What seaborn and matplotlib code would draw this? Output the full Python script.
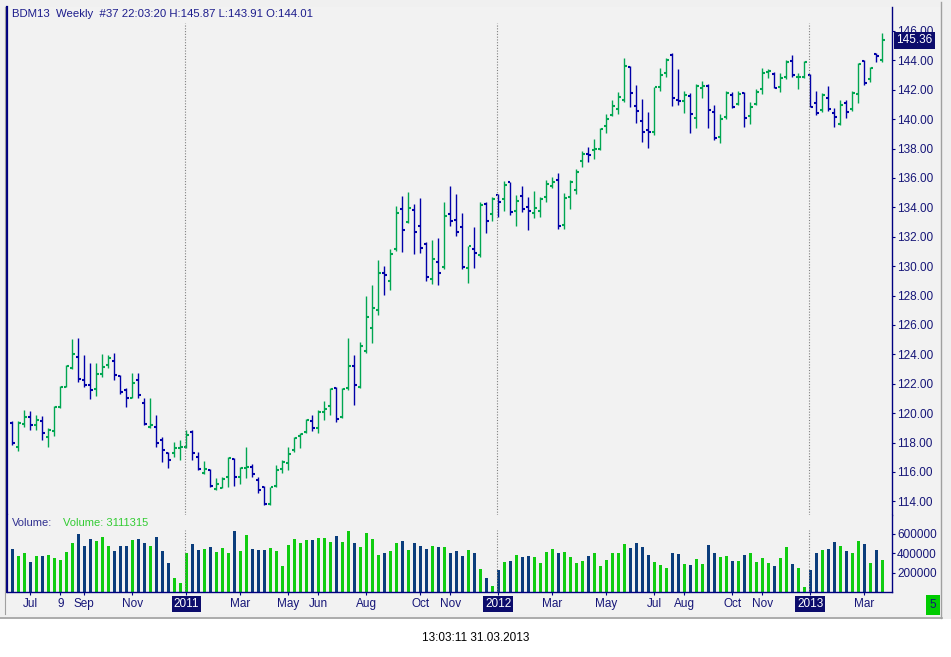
import numpy as np
import pandas as pd
import seaborn as sns
import matplotlib
matplotlib.use('Agg')
import matplotlib.pyplot as plt
import matplotlib.transforms as mtransforms
from matplotlib.patches import Rectangle

# weekly bars, BDM13, from week of 14.06.2010 to week of 25.03.2013
opens = [119.31, 117.68, 119.24, 119.72, 119.20, 119.49, 118.36, 118.79, 120.40, 121.81,
         123.05, 123.85, 122.26, 121.92, 121.62, 122.67, 123.28, 123.53, 122.55, 121.58,
         121.01, 122.26, 120.67, 119.04, 119.08, 118.18, 117.32, 117.27, 117.61, 117.72,
         118.74, 117.00, 115.91, 116.14, 114.82, 114.91, 115.68, 116.86, 115.68, 116.25,
         116.36, 115.46, 115.00, 113.82, 115.05, 116.18, 116.59, 117.50, 118.45, 118.74,
         119.47, 118.97, 120.05, 120.46, 121.69, 119.71, 121.69, 123.18, 121.76, 124.20,
         125.77, 126.99, 129.51, 128.97, 131.14, 133.86, 132.98, 133.80, 132.71, 131.50,
         129.10, 130.26, 129.92, 133.52, 133.12, 132.64, 129.85, 131.14, 130.74, 134.20,
         133.52, 134.82, 134.55, 135.70, 133.73, 134.80, 134.00, 133.60, 133.73, 134.68,
         135.46, 135.86, 132.78, 134.71, 135.18, 137.13, 137.63, 137.88, 137.95, 139.56,
         140.26, 140.69, 141.28, 143.53, 140.88, 139.88, 139.27, 139.10, 142.17, 143.12,
         144.37, 141.31, 141.24, 141.58, 140.06, 142.10, 142.26, 140.49, 138.77, 140.13,
         141.62, 141.03, 141.76, 140.22, 141.03, 142.03, 143.21, 143.08, 142.17, 142.85,
         143.96, 142.85, 142.89, 143.01, 141.08, 140.63, 141.42, 140.40, 139.67, 141.08,
         140.67, 141.72, 143.96, 142.71, 144.44, 144.01]
highs = [119.49, 119.49, 120.22, 120.15, 119.88, 119.81, 118.97, 120.49, 121.85, 123.28,
         125.03, 125.14, 123.96, 123.39, 123.44, 124.00, 123.96, 124.12, 122.60, 121.69,
         122.71, 122.76, 121.01, 121.01, 119.88, 118.40, 117.38, 118.06, 118.18, 118.86,
         118.86, 117.38, 116.77, 116.18, 115.57, 115.68, 117.04, 116.97, 116.36, 117.68,
         116.54, 115.68, 115.05, 115.00, 116.48, 116.82, 117.72, 118.40, 118.63, 119.58,
         119.87, 120.21, 120.83, 121.69, 121.76, 121.69, 125.09, 123.95, 124.86, 127.97,
         128.72, 130.42, 130.01, 131.17, 134.09, 134.77, 135.04, 134.23, 134.64, 131.66,
         131.78, 131.89, 134.36, 135.45, 134.91, 133.59, 131.37, 132.64, 134.39, 134.36,
         134.68, 134.91, 135.82, 135.75, 134.84, 135.46, 134.73, 135.12, 134.73, 135.86,
         136.09, 136.32, 134.96, 135.86, 136.59, 137.84, 138.09, 138.65, 139.38, 140.35,
         141.31, 141.83, 144.14, 143.62, 142.33, 141.35, 140.51, 142.21, 143.46, 144.14,
         144.48, 143.39, 141.92, 141.76, 142.40, 142.60, 142.40, 140.97, 140.35, 141.92,
         141.87, 141.92, 141.87, 141.19, 142.03, 143.46, 143.39, 143.19, 143.17, 144.03,
         144.37, 143.12, 143.96, 143.08, 141.92, 141.76, 142.26, 140.74, 141.31, 141.31,
         141.94, 143.85, 144.03, 143.57, 144.53, 145.87]
lows = [117.84, 117.45, 119.08, 118.86, 118.86, 118.18, 117.72, 118.45, 120.33, 121.76,
        122.98, 122.15, 121.81, 120.94, 121.17, 122.49, 123.05, 122.26, 121.31, 120.40,
        121.01, 121.01, 119.20, 118.97, 117.72, 116.70, 116.25, 117.04, 116.82, 117.61,
        116.82, 116.14, 115.86, 115.00, 114.78, 114.89, 115.00, 115.05, 115.18, 115.57,
        115.68, 114.55, 113.76, 113.76, 115.00, 115.91, 116.14, 117.38, 117.61, 118.63,
        118.81, 118.63, 119.53, 119.87, 119.42, 119.65, 121.57, 120.55, 121.69, 124.11,
        124.79, 126.68, 128.06, 128.38, 131.05, 130.98, 132.91, 130.83, 130.92, 129.01,
        128.78, 128.72, 129.78, 132.73, 132.05, 129.83, 128.88, 129.90, 130.64, 132.28,
        133.09, 133.32, 133.77, 133.48, 132.76, 133.71, 132.46, 133.26, 133.32, 134.39,
        135.30, 132.53, 132.53, 133.87, 134.89, 136.77, 137.11, 137.32, 137.90, 139.08,
        140.20, 140.35, 141.19, 140.85, 139.72, 138.47, 138.02, 138.92, 141.94, 142.89,
        140.90, 140.97, 140.45, 139.08, 139.42, 141.46, 139.42, 138.58, 138.40, 139.99,
        140.74, 140.97, 139.49, 139.67, 140.97, 141.69, 142.78, 142.10, 141.87, 142.70,
        142.89, 142.03, 142.83, 140.81, 140.29, 140.51, 140.58, 139.49, 139.61, 140.06,
        140.56, 141.08, 142.33, 142.55, 143.91, 143.91]
closes = [117.95, 119.36, 119.72, 119.20, 119.54, 118.63, 118.86, 120.40, 121.81, 123.21,
          124.03, 122.30, 121.92, 121.58, 122.67, 123.12, 123.73, 122.60, 121.46, 121.01,
          122.03, 121.24, 119.24, 119.20, 118.00, 117.50, 116.82, 117.61, 117.72, 118.52,
          117.32, 116.23, 116.18, 115.05, 115.18, 115.50, 116.93, 115.64, 116.25, 116.36,
          115.86, 114.78, 113.82, 115.00, 116.14, 116.70, 117.22, 118.29, 118.59, 119.54,
          118.97, 120.05, 120.26, 121.62, 119.58, 121.62, 123.18, 121.89, 124.54, 126.52,
          127.13, 129.51, 129.37, 130.80, 133.59, 132.44, 133.93, 132.30, 131.21, 129.24,
          130.46, 129.51, 133.39, 133.05, 132.30, 129.92, 131.35, 130.87, 134.16, 133.05,
          134.54, 134.34, 135.52, 133.66, 134.41, 133.87, 133.73, 133.94, 134.57, 135.59,
          135.73, 132.73, 134.62, 135.70, 136.39, 137.61, 137.59, 137.97, 139.31, 139.99,
          140.87, 141.49, 143.62, 141.76, 140.56, 139.10, 139.10, 142.17, 143.01, 144.03,
          141.42, 141.24, 141.65, 140.33, 142.26, 142.26, 140.60, 138.70, 139.99, 141.76,
          140.81, 141.69, 140.06, 140.81, 141.85, 143.12, 143.26, 142.10, 142.78, 143.89,
          143.01, 142.89, 143.87, 140.85, 140.45, 141.65, 140.67, 140.13, 140.97, 140.47,
          141.81, 143.73, 142.44, 143.46, 144.30, 145.36]
volumes = [439000, 367000, 398000, 306000, 367000, 367000, 377000, 347000, 326000, 408000,
           501000, 593000, 470000, 541000, 521000, 562000, 470000, 418000, 470000, 470000,
           531000, 541000, 501000, 470000, 562000, 418000, 295000, 141000, 90000, 398000,
           490000, 428000, 439000, 459000, 408000, 449000, 398000, 624000, 418000, 583000,
           439000, 428000, 428000, 449000, 418000, 265000, 480000, 541000, 501000, 531000,
           531000, 552000, 552000, 511000, 572000, 511000, 624000, 501000, 459000, 603000,
           541000, 377000, 398000, 418000, 501000, 521000, 428000, 501000, 470000, 439000,
           470000, 459000, 459000, 398000, 418000, 367000, 428000, 400000, 234000, 141000,
           59000, 224000, 306000, 316000, 377000, 357000, 367000, 357000, 295000, 408000,
           439000, 398000, 408000, 357000, 295000, 316000, 367000, 398000, 265000, 326000,
           398000, 398000, 490000, 449000, 501000, 459000, 377000, 306000, 275000, 244000,
           398000, 387000, 285000, 275000, 336000, 285000, 480000, 398000, 357000, 367000,
           316000, 316000, 377000, 398000, 306000, 347000, 295000, 265000, 347000, 459000,
           285000, 244000, 49000, 224000, 398000, 428000, 439000, 511000, 470000, 418000,
           398000, 521000, 490000, 295000, 428000, 326000]

tick_pos = [3, 8, 12, 20, 29, 38, 46, 51, 59, 68, 73, 81, 90, 99, 107, 112, 120, 125, 133, 142]
tick_lab = ['Jul', '9', 'Sep', 'Nov', '2011', 'Mar', 'May', 'Jun', 'Aug', 'Oct', 'Nov',
            '2012', 'Mar', 'May', 'Jul', 'Aug', 'Oct', 'Nov', '2013', 'Mar']
year_pos = [29, 81, 133]
price_ticks = list(range(114, 147, 2))
vol_ticks = [200000, 400000, 600000]

plt.rcParams['font.family'] = ['Liberation Sans', 'DejaVu Sans']

UP = '#00a651'
DOWN = '#0000a8'
VUP = '#10cc10'
VDOWN = '#0b3d7c'
NAVY = '#000080'
TXT = '#161678'

W, H = 951, 657
fig = plt.figure(figsize=(W / 100, H / 100), dpi=100, facecolor='white')


def fx(x):
    return x / W


def fy(y):
    return 1 - y / H


# window background and borders
fig.patches.append(Rectangle((0, fy(619)), 1, 619 / H, transform=fig.transFigure,
                             facecolor='#f0f0f0', edgecolor='none', zorder=-5))
fig.patches.append(Rectangle((fx(5), fy(614)), fx(941) - fx(5), fy(7) - fy(614),
                             transform=fig.transFigure, facecolor='#f2f2f2',
                             edgecolor='none', zorder=-4))
fig.add_artist(plt.Line2D([0, fx(942)], [fy(618), fy(618)], color='#a0a0a0', lw=1.2))
fig.add_artist(plt.Line2D([fx(941), fx(941)], [fy(618), fy(2)], color='#a0a0a0', lw=1))
fig.add_artist(plt.Line2D([fx(4.5), fx(4.5)], [fy(614), fy(7)], color='#a0a0a0', lw=0.8))

ax = fig.add_axes([fx(7), fy(515), fx(892) - fx(7), fy(7) - fy(515)])
axv = fig.add_axes([fx(7), fy(592), fx(892) - fx(7), fy(515) - fy(592)])

n = len(closes)
idx = np.arange(n)
o = np.array(opens)
c = np.array(closes)
up = c >= o
cols = np.where(up, UP, DOWN)

df = pd.DataFrame({'bar': idx, 'volume': volumes, 'dir': np.where(up, 'up', 'down')})

for a in (ax, axv):
    a.set_facecolor('#f2f2f2')
    a.set_xlim(-0.883, 146.6)

# price bars
ax.vlines(idx, lows, highs, colors=cols, linewidth=1.0)
ax.hlines(o, idx - 0.45, idx - 0.05, colors=cols, linewidth=1.5)
ax.hlines(c, idx + 0.05, idx + 0.45, colors=cols, linewidth=1.5)

# volume bars
sns.barplot(data=df, x='bar', y='volume', hue='dir',
            palette={'up': VUP, 'down': VDOWN}, saturation=1, native_scale=True,
            width=0.5, dodge=False, errorbar=None, legend=False, linewidth=0, ax=axv)

for p in year_pos:
    ax.axvline(p - 0.3, ymin=0, ymax=0.968, color='#808080', linestyle=(0, (1, 1.5)), lw=0.8)
    axv.axvline(p - 0.3, ymin=0, ymax=0.8, color='#808080', linestyle=(0, (1, 1.5)), lw=0.8)

ax.set_ylim(113.07, 147.63)
axv.set_ylim(0, 789744)
axv.set_xlim(-0.883, 146.6)

ax.yaxis.tick_right()
ax.set_yticks(price_ticks)
ax.set_yticklabels([f'{v:.2f}' for v in price_ticks])
ax.set_xticks([])
ax.tick_params(axis='y', colors=NAVY, labelcolor=TXT, length=2.2, width=0.8,
               pad=1.5, labelsize=8.5)

axv.yaxis.tick_right()
axv.set_yticks(vol_ticks)
axv.set_yticklabels([str(v) for v in vol_ticks])
axv.set_xticks(tick_pos)
axv.set_xticklabels(tick_lab)
axv.set_xlabel('')
axv.set_ylabel('')
axv.tick_params(axis='y', colors=NAVY, labelcolor=TXT, length=2.2, width=0.8,
                pad=1.5, labelsize=8.5)
axv.tick_params(axis='x', colors=NAVY, labelcolor=TXT, length=2.2, width=0.8,
                pad=2, labelsize=8.5)
for lab in axv.get_xticklabels():
    if lab.get_text() in ('2011', '2012', '2013'):
        lab.set_color('white')
        lab.set_bbox(dict(boxstyle='square,pad=0.15', facecolor='#0c0c6c', edgecolor='none'))

for a in (ax, axv):
    for s in a.spines.values():
        s.set_color(NAVY)
    a.spines['top'].set_visible(False)
    a.spines['left'].set_linewidth(1.6)
    a.spines['right'].set_linewidth(1.0)
ax.spines['bottom'].set_visible(False)
axv.spines['bottom'].set_linewidth(1.0)

# last price marker (covers part of the top tick label, as in the terminal)
trans = mtransforms.blended_transform_factory(ax.transAxes, ax.transData)
ax.text(1.005, closes[-1], f'{closes[-1]:.2f}', transform=trans, ha='left', va='center',
        color='white', fontsize=8.5, clip_on=False, zorder=5,
        bbox=dict(boxstyle='square,pad=0.2', facecolor='#0c0c6c', edgecolor='none'))

fig.text(fx(12), fy(14), 'BDM13  Weekly  #37 22:03:20 H:145.87 L:143.91 O:144.01',
         ha='left', va='center', color='#1c1c8c', fontsize=8.2)
fig.text(fx(12), fy(523), 'Volume:', ha='left', va='center', color='#303090', fontsize=8)
fig.text(fx(63), fy(523), 'Volume: 3111315', ha='left', va='center', color='#33cc33', fontsize=8)
fig.text(fx(933), fy(605), '5', ha='center', va='center', color=TXT, fontsize=8.5,
         bbox=dict(boxstyle='square,pad=0.3', facecolor='#00cc00', edgecolor='none'))
fig.text(fx(476), fy(638), '13:03:11 31.03.2013', ha='center', va='center',
         color='black', fontsize=8.5)

fig.savefig('out.png', dpi=100, facecolor=fig.get_facecolor())
